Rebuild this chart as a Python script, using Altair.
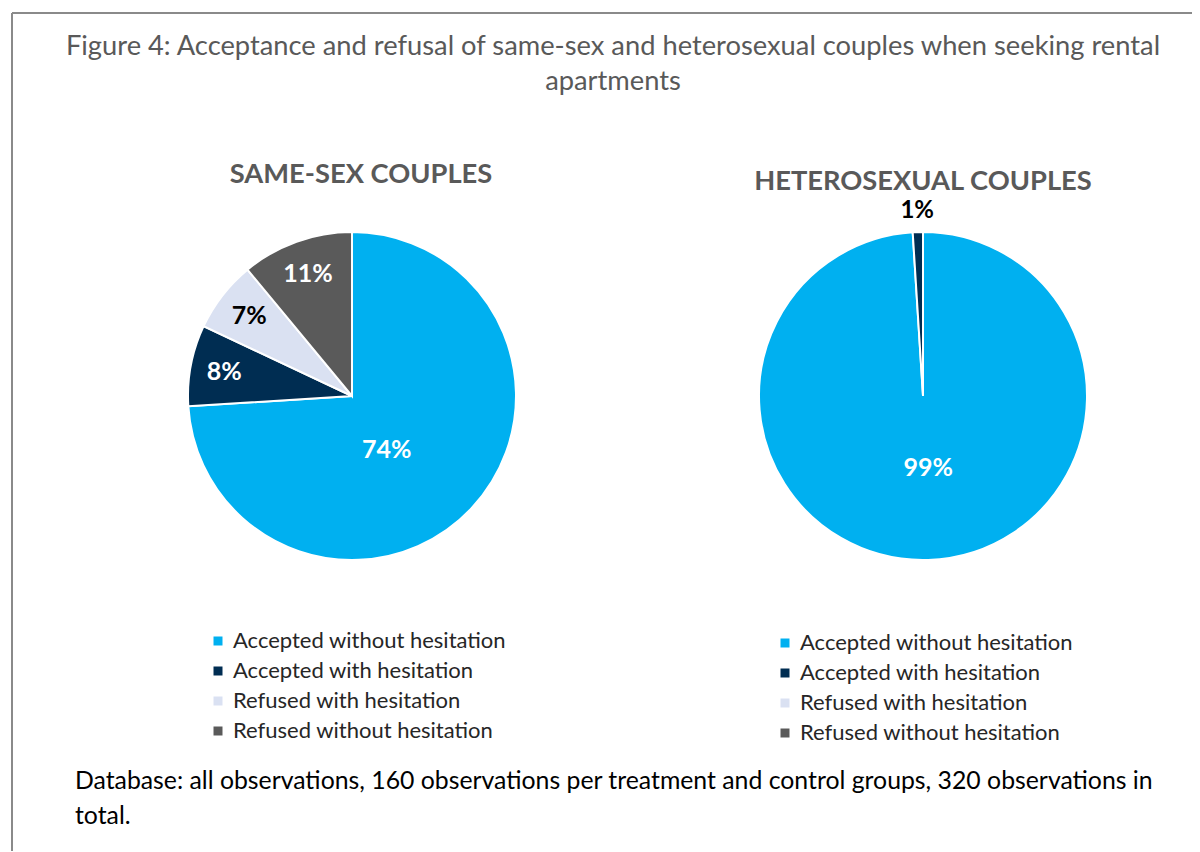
import altair as alt
import pandas as pd

categories = ["Accepted without hesitation", "Accepted with hesitation",
              "Refused with hesitation", "Refused without hesitation"]
same_sex_pct = [74, 8, 7, 11]
hetero_pct = [99, 1, 0, 0]
groups = ["Same-sex", "Heterosexual"]
panel_titles = ["SAME-SEX COUPLES", "HETEROSEXUAL COUPLES"]
colors = ["#00B0F0", "#002D52", "#DAE1F2", "#5A5A5A"]
title_lines = ["Figure 4: Acceptance and refusal of same-sex and heterosexual couples when seeking rental",
               "apartments"]
footer_lines = ["Database: all observations, 160 observations per treatment and control groups, 320 observations in",
                "total."]

rows = []
for g, vals in zip(groups, [same_sex_pct, hetero_pct]):
    for i, (c, v) in enumerate(zip(categories, vals)):
        rows.append({"group": g, "category": c, "order": i, "value": v})
df = pd.DataFrame(rows)

FONT = "Lato"
W, H = 1180, 838
CY = 383
R = 164
FRAME = "#8a8a8a"

xscale = alt.Scale(type="point", domain=groups, range=[340, 911], padding=0)
tscale = alt.Scale(domain=[0, 100])
cscale = alt.Scale(domain=categories, range=colors)


def prepared(group=None):
    c = alt.Chart(df)
    if group is not None:
        c = c.transform_filter(alt.datum.group == group)
    return (c.transform_filter(alt.datum.value > 0)
             .transform_window(cum="sum(value)", groupby=["group"], sort=[alt.SortField("order")])
             .transform_calculate(start="datum.cum - datum.value",
                                  mid="datum.cum - datum.value / 2",
                                  lbl="datum.value + '%'"))


def legend(lx, ly):
    return alt.Legend(title=None, orient="none", legendX=lx, legendY=ly, direction="vertical",
                      symbolType="square", symbolSize=81, symbolStrokeWidth=0,
                      labelFont=FONT, labelFontSize=22, labelColor="#262626",
                      rowPadding=8, padding=0, labelOffset=4, labelLimit=500)


def pie(group, lx, ly):
    return prepared(group).mark_arc(radius=R, stroke="white", strokeWidth=2).encode(
        x=alt.X("group:N", scale=xscale, axis=None),
        y=alt.value(CY),
        theta=alt.Theta("start:Q", stack=None, scale=tscale),
        theta2="cum:Q",
        color=alt.Color("category:N", scale=cscale, legend=legend(lx, ly)),
        order=alt.Order("order:Q"),
    )


pie_left = pie(groups[0], 195, 617)
pie_right = pie(groups[1], 762, 619)

label_enc = dict(
    x=alt.X("group:N", scale=xscale, axis=None),
    y=alt.value(CY),
    theta=alt.Theta("mid:Q", stack=None, scale=tscale),
    text="lbl:N",
)

LBL = dict(font=FONT, fontSize=25, fontWeight="bold")

labels_big_left = prepared(groups[0]).transform_filter(alt.datum.value >= 50).mark_text(
    radius=64, dx=-12, dy=10, color="white", **LBL
).encode(**label_enc)

labels_big_right = prepared(groups[1]).transform_filter(alt.datum.value >= 50).mark_text(
    radius=72, dx=3, color="white", **LBL
).encode(**label_enc)

labels_small = prepared(groups[0]).transform_filter(alt.datum.value < 50).mark_text(
    radius=130, **LBL
).encode(
    color=alt.condition(alt.datum.category == categories[2], alt.value("black"), alt.value("white")),
    **label_enc,
)

labels_out = prepared(groups[1]).transform_filter(alt.datum.value < 50).mark_text(
    radius=185, color="black", font=FONT, fontSize=24, fontWeight="bold"
).encode(**label_enc)

one = alt.Data(values=[{}])

frame_top = alt.Chart(one).mark_rule(color=FRAME, strokeWidth=2).encode(
    x=alt.value(0), x2=alt.value(W), y=alt.value(0))
frame_left = alt.Chart(one).mark_rule(color=FRAME, strokeWidth=2).encode(
    x=alt.value(0), y=alt.value(0), y2=alt.value(H))

title = alt.Chart(one).mark_text(
    font=FONT, fontSize=27.3, color="#595959", align="center", baseline="alphabetic", lineHeight=35
).encode(x=alt.value(601), y=alt.value(42), text=alt.value(title_lines))

SUB = dict(font=FONT, fontSize=27.3, fontWeight="bold", color="#595959", align="center", baseline="alphabetic")
sub_left = alt.Chart(one).mark_text(**SUB).encode(
    x=alt.value(349), y=alt.value(170), text=alt.value(panel_titles[0]))
sub_right = alt.Chart(one).mark_text(**SUB).encode(
    x=alt.value(911), y=alt.value(177), text=alt.value(panel_titles[1]))

footer = alt.Chart(one).mark_text(
    font=FONT, fontSize=24.8, color="black", align="left", baseline="alphabetic", lineHeight=35
).encode(x=alt.value(63), y=alt.value(776), text=alt.value(footer_lines))

chart = alt.layer(
    frame_top, frame_left,
    pie_left, pie_right, labels_big_left, labels_big_right, labels_small, labels_out,
    title, sub_left, sub_right, footer
).resolve_scale(color="independent").properties(
    width=W, height=H,
    padding={"left": 4, "top": 5, "right": 0, "bottom": 0},
    autosize="none",
).configure_view(stroke=None)

chart.save("out.html", embed_options={"renderer": "svg", "actions": False})
